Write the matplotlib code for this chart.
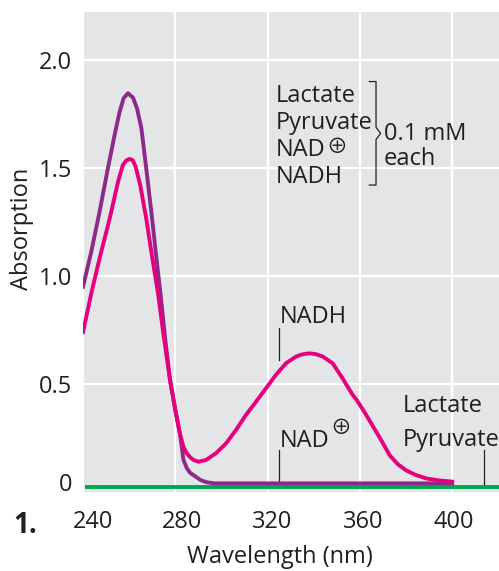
import matplotlib
matplotlib.use("Agg")
import matplotlib.pyplot as plt
from matplotlib.transforms import ScaledTranslation

plt.rcParams['font.family'] = ['Open Sans', 'DejaVu Sans']

# NAD+ (purple) spectrum
wl_nad = [240, 243.6, 247.2, 250.8, 253.7, 255.9, 257.6, 259.5, 261.7, 263.4,
          265.3, 267.4, 269.6, 271.5, 273.5, 275.5, 277.7, 280, 282, 282.8,
          283.5, 285, 286.5, 289, 291, 293.6, 297, 400]
abs_nad = [0.95, 1.113, 1.298, 1.499, 1.653, 1.761, 1.823, 1.846, 1.825, 1.776,
           1.684, 1.499, 1.298, 1.113, 0.927, 0.72, 0.52, 0.38, 0.27, 0.21,
           0.15, 0.11, 0.088, 0.07, 0.055, 0.045, 0.04, 0.04]

# NADH (pink) spectrum
wl_nadh = [240, 243.6, 247.2, 251.6, 255.2, 257.3, 258.8, 260.2, 261.6, 262.8,
           264.8, 267.4, 269.6, 272.5, 275, 277.7, 280, 282, 283.5, 284.9,
           286.5, 288, 290, 293.3, 297.6, 302, 306.3, 310.6, 315, 319.3,
           323.6, 328, 332.3, 335, 338.1, 341, 343.9, 348.2, 352.5, 356.9,
           358.6, 362, 365.8, 369.5, 372.9, 376.5, 380.1, 384, 388.7, 394, 400]
abs_nadh = [0.74, 0.92, 1.082, 1.267, 1.437, 1.514, 1.535, 1.542, 1.535, 1.506,
            1.421, 1.267, 1.113, 0.92, 0.72, 0.52, 0.38, 0.27, 0.21, 0.18,
            0.16, 0.148, 0.14, 0.148, 0.179, 0.225, 0.287, 0.356, 0.418, 0.48,
            0.542, 0.596, 0.627, 0.637, 0.642, 0.638, 0.627, 0.596, 0.526, 0.449,
            0.426, 0.37, 0.302, 0.235, 0.17, 0.128, 0.10, 0.08, 0.063, 0.054, 0.048]

# Lactate / Pyruvate baseline (green)
wl_lac = [240.9, 420.3]
abs_lac = [0.025, 0.025]

xticks = [240, 280, 320, 360, 400]
xtick_shift = [10, 7, 5, 3, 2]  # label offsets in px, as printed
yticks = [0.045, 0.5, 1.0, 1.5, 2.0]
ytick_labels = ['0', '0.5', '1.0', '1.5', '2.0']

purple = '#8c2a8c'
pink = '#e6007e'
green = '#00a650'
txt = '#231f20'
plus_font = ['Noto Sans CJK JP', 'DejaVu Sans']

fig = plt.figure(figsize=(4.99, 5.71), dpi=100)
ax = fig.add_axes([83 / 499, 1 - 492 / 571, 416 / 499, 480 / 571])
ax.set_facecolor('#e4e5e7')
for s in ax.spines.values():
    s.set_visible(False)

ax.plot(wl_lac, abs_lac, color=green, lw=2.8, solid_capstyle='butt', zorder=3)
ax.plot(wl_nad, abs_nad, color=purple, lw=2.8, zorder=4)
ax.plot(wl_nadh, abs_nadh, color=pink, lw=2.8, zorder=5)

ax.set_xlim(240, 420.3)
ax.set_ylim(0, 2.222)
ax.set_xticks(xticks)
ax.set_yticks(yticks)
ax.set_yticklabels(ytick_labels)
ax.tick_params(length=0, labelsize=17, colors=txt)
ax.tick_params(axis='y', pad=8)
ax.tick_params(axis='x', pad=13)
ax.grid(True, color='white', lw=1.6)
ax.get_ygridlines()[0].set_visible(False)
ax.set_axisbelow(True)
for lab, dx in zip(ax.get_xticklabels(), xtick_shift):
    lab.set_transform(lab.get_transform() +
                      ScaledTranslation(dx / 100, 0, fig.dpi_scale_trans))

fs = 17
# concentration legend
legend_lines = ['Lactate', 'Pyruvate', 'NAD', 'NADH']
legend_y = [1.806, 1.681, 1.556, 1.431]
for s, yy in zip(legend_lines, legend_y):
    ax.text(323.6, yy, s, fontsize=fs, color=txt, ha='left', va='baseline')
ax.text(349.9, 1.599, '⊕', fontsize=15, color=txt, ha='center', va='center',
        family=plus_font)
ax.plot([364.1, 367.0, 367.0, 369.0, 367.0, 367.0, 364.1],
        [1.900, 1.900, 1.688, 1.660, 1.632, 1.421, 1.421],
        color=txt, lw=0.9, zorder=6)
ax.text(370.4, 1.630, '0.1 mM', fontsize=fs, color=txt, ha='left', va='baseline')
ax.text(370.4, 1.514, 'each', fontsize=fs, color=txt, ha='left', va='baseline')

# curve labels
ax.text(325.1, 0.781, 'NADH', fontsize=fs, color=txt, ha='left', va='baseline')
ax.plot([325.1, 325.1], [0.611, 0.758], color=txt, lw=0.9)
ax.text(325.1, 0.21, 'NAD', fontsize=fs, color=txt, ha='left', va='baseline')
ax.text(351.8, 0.295, '⊕', fontsize=15, color=txt, ha='center', va='center',
        family=plus_font)
ax.plot([325.1, 325.1], [0.048, 0.194], color=txt, lw=0.9)
ax.text(378.5, 0.370, 'Lactate', fontsize=fs, color=txt, ha='left', va='baseline')
ax.text(378.5, 0.211, 'Pyruvate', fontsize=fs, color=txt, ha='left', va='baseline')
ax.plot([413.9, 413.9], [0.025, 0.194], color=txt, lw=0.9)

fig.text(22.5 / 499, 1 - 229 / 571, 'Absorption', rotation=90, fontsize=fs,
         color=txt, ha='center', va='center')
fig.text(280 / 499, 1 - 563.3 / 571, 'Wavelength (nm)', fontsize=fs,
         color=txt, ha='center', va='baseline')
fig.text(13.3 / 499, 1 - 533 / 571, '1.', fontsize=20, fontweight='bold',
         color=txt, ha='left', va='baseline')

fig.savefig('out.png', dpi=100)
